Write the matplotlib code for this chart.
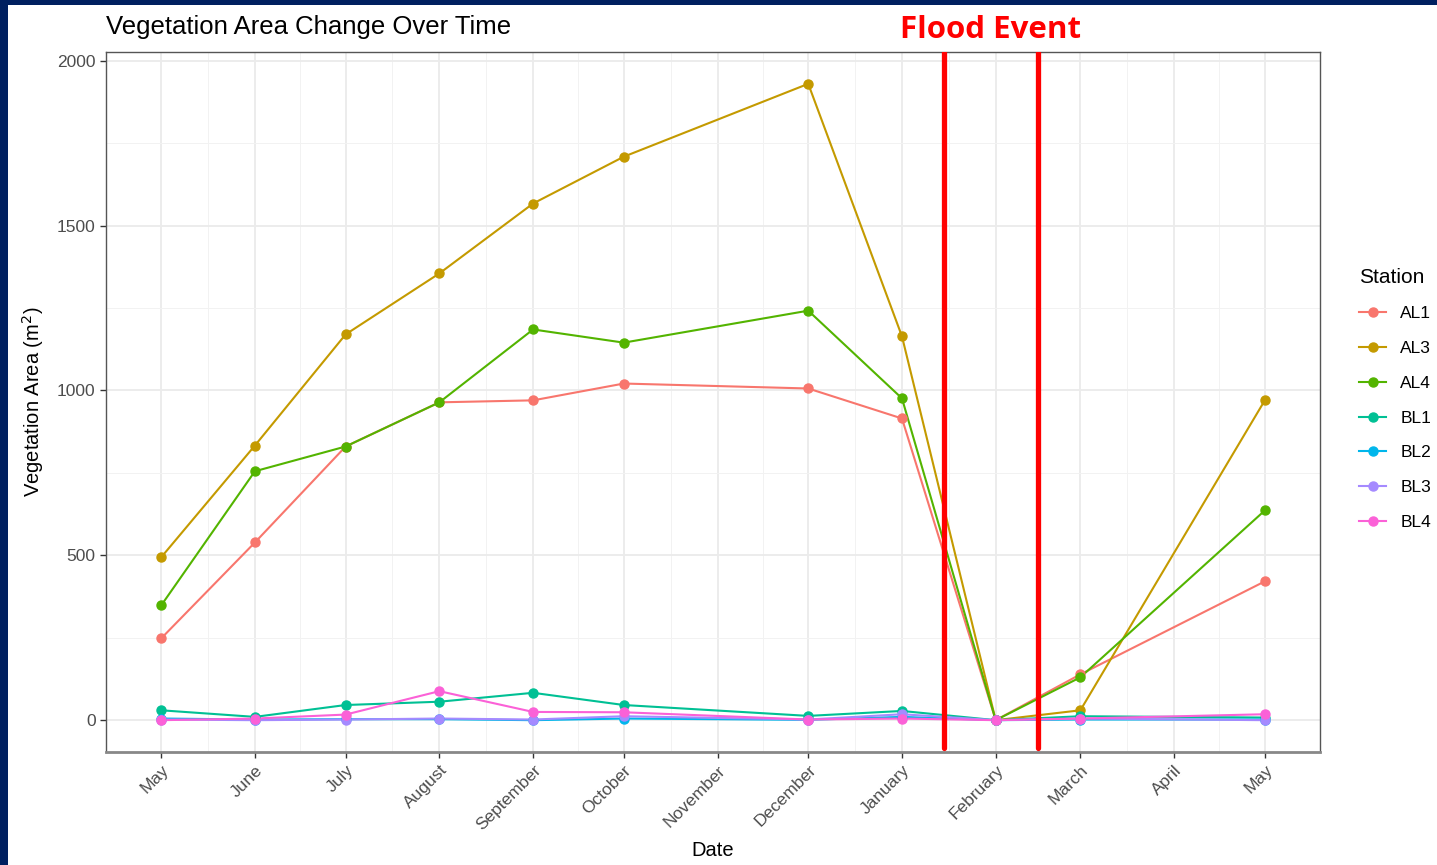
import numpy as np
import pandas as pd
import matplotlib
matplotlib.use("Agg")
import matplotlib.pyplot as plt
from matplotlib.lines import Line2D
from matplotlib.patches import Rectangle

plt.rcParams["font.family"] = ["Liberation Sans", "DejaVu Sans"]

# ---- data -------------------------------------------------------------
dates = pd.to_datetime([
    "2022-05-01", "2022-06-01", "2022-07-01", "2022-08-01", "2022-09-01",
    "2022-10-01", "2022-12-01", "2023-01-01", "2023-02-01", "2023-03-01",
    "2023-05-01",
])
stations = ["AL1", "AL3", "AL4", "BL1", "BL2", "BL3", "BL4"]
al1 = [248, 539, 830, 964, 970, 1021, 1006, 915, 0, 139, 421]
al3 = [494, 833, 1170, 1355, 1567, 1709, 1930, 1164, 0, 30, 970]
al4 = [348, 755, 830, 964, 1185, 1145, 1242, 976, 0, 130, 636]
bl1 = [30, 10, 46, 56, 83, 46, 13, 28, 0, 12, 8]
bl2 = [5, 2, 3, 3, 0, 5, 1, 10, 0, 2, 2]
bl3 = [2, 0, 2, 5, 2, 12, 2, 18, 0, 5, 0]
bl4 = [0, 5, 17, 88, 25, 24, 2, 5, 0, 5, 18]
values = [al1, al3, al4, bl1, bl2, bl3, bl4]
colors = ["#F8766D", "#C49A00", "#53B400", "#00C094", "#00B6EB", "#A58AFF", "#FB61D7"]

tick_dates = pd.date_range("2022-05-01", "2023-05-01", freq="MS")
tick_labels = [d.strftime("%B") for d in tick_dates]
flood_dates = pd.to_datetime(["2023-01-15", "2023-02-15"])

NAVY = "#002060"

# ---- figure -------------------------------------------------------------
fig = plt.figure(figsize=(14.37, 8.65), dpi=100, facecolor=NAVY)
fig.patches.append(Rectangle((8 / 1437, 0), 1, 1 - 5 / 865, transform=fig.transFigure,
                             facecolor="white", edgecolor="none", zorder=-1))

ax = fig.add_axes([106 / 1437, 113 / 865, (1320 - 106) / 1437, (752 - 52) / 865])
ax.set_facecolor("white")

for vals, c in zip(values, colors):
    ax.plot(dates, vals, color=c, lw=1.5, zorder=3)
for vals, c in zip(values, colors):
    ax.plot(dates, vals, ls="none", marker="o", ms=6.5, color=c, zorder=4)

for fd in flood_dates:
    ax.axvline(fd, color="#FF0000", lw=3.8, solid_capstyle="round", zorder=5,
               ymin=0.006, ymax=1.0)

# limits, ggplot-style 5% expansion
span = dates[-1] - dates[0]
ax.set_xlim(dates[0] - span * 0.05, dates[-1] + span * 0.05)
ax.set_ylim(-96.5, 2026.5)

ax.set_xticks(tick_dates)
ax.set_xticklabels(tick_labels, rotation=45, ha="right", rotation_mode="anchor",
                   fontsize=12.5, color="#4D4D4D")
mid = tick_dates[:-1] + (tick_dates[1:] - tick_dates[:-1]) / 2
ax.set_xticks(mid, minor=True)
ax.set_yticks([0, 500, 1000, 1500, 2000])
ax.set_yticks([250, 750, 1250, 1750], minor=True)
ax.tick_params(axis="y", labelsize=12.5, labelcolor="#4D4D4D")
ax.tick_params(which="major", length=4, color="#333333", width=1)
ax.tick_params(which="minor", length=0)

ax.grid(which="major", color="#EBEBEB", lw=1.3, zorder=0)
ax.grid(which="minor", color="#F2F2F2", lw=0.7, zorder=0)
ax.set_axisbelow(True)
for s in ax.spines.values():
    s.set_color("#555555")
    s.set_linewidth(1.0)
ax.spines["bottom"].set_color("#888888")
ax.spines["bottom"].set_linewidth(2)

ax.set_xlabel("Date", fontsize=14.5, labelpad=6)
ax.set_ylabel("Vegetation Area (m$^2$)", fontsize=14.5, labelpad=8)

fig.text(106 / 1437, 1 - 27 / 865, "Vegetation Area Change Over Time", fontsize=18.5,
         ha="left", va="center", color="black")
fig.text(991 / 1437, 1 - 30 / 865, "Flood Event", fontsize=22.5, fontweight="bold",
         ha="center", va="center", color="#FF0000", family=["Open Sans", "DejaVu Sans"])

handles = [Line2D([], [], color=c, lw=1.5, marker="o", ms=6.5) for c in colors]
leg = fig.legend(handles, stations, title="Station", loc="upper left",
                 bbox_to_anchor=(1343 / 1437, 1 - 252 / 865), frameon=False,
                 fontsize=12.5, title_fontsize=15, handlelength=1.6,
                 labelspacing=1.13, handletextpad=0.8)
leg._legend_box.align = "left"

fig.savefig("out.png", dpi=100, facecolor=NAVY)
